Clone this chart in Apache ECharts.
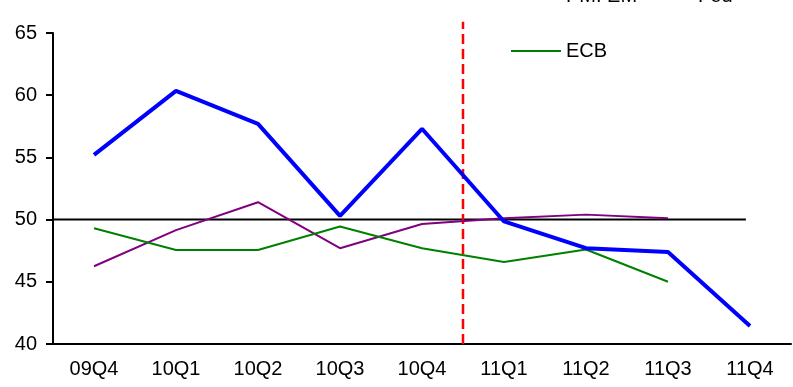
<!DOCTYPE html>
<html>
<head>
<meta charset="utf-8">
<script src="https://cdn.jsdelivr.net/npm/echarts@6/dist/echarts.min.js"></script>
<style>html,body{margin:0;padding:0;background:#fff;}#c{width:793px;height:387px;}</style>
</head>
<body>
<div id="c"></div>
<script>
var categories = ['09Q4','10Q1','10Q2','10Q3','10Q4','11Q1','11Q2','11Q3','11Q4'];
var pmiEM = [55.2, 60.35, 57.7, 50.3, 57.3, 49.85, 47.7, 47.4, 41.45];
var fed = [46.25, 49.15, 51.4, 47.7, 49.65, 50.1, 50.4, 50.1, null];
var ecb = [49.3, 47.55, 47.55, 49.45, 47.7, 46.6, 47.6, 45.0, null];
var yTicks = [40, 45, 50, 55, 60, 65];
var refLevel = 50;
var refLineRange = [0, 8.45];
var forecastBoundary = 5;
var forecastLineRange = [40, 65.9];

var chart = echarts.init(document.getElementById('c'));
var font = 'Liberation Sans, Arial, Helvetica, sans-serif';
var lineIcon = 'path://M0,0 L50,0 L50,2 L0,2 Z';
chart.setOption({
  animation: false,
  textStyle: {fontFamily: font},
  grid: {left: 53, right: 2, top: 33, bottom: 43, containLabel: false},
  legend: [
    {data: [{name: 'PMI EM', icon: lineIcon}, {name: 'Fed', icon: lineIcon}],
     left: 506, top: -19, itemWidth: 50, itemHeight: 2, itemGap: 6,
     textStyle: {fontSize: 20, color: '#000', fontFamily: font}},
    {data: [{name: 'ECB', icon: lineIcon}], left: 506, top: 36, itemWidth: 50, itemHeight: 2,
     textStyle: {fontSize: 20, color: '#000', fontFamily: font}}
  ],
  xAxis: [
    {type: 'category', data: categories, boundaryGap: true,
     axisLine: {lineStyle: {color: '#000', width: 2}},
     axisTick: {length: 7, lineStyle: {color: '#000', width: 2}},
     axisLabel: {color: '#000', fontSize: 20, margin: 15, fontFamily: font},
     splitLine: {show: false}},
    {type: 'value', min: 0, max: 9, show: false}
  ],
  yAxis: {
    type: 'value', min: yTicks[0], max: yTicks[yTicks.length - 1], interval: 5,
    axisLine: {show: true, lineStyle: {color: '#000', width: 2}},
    axisTick: {show: true, inside: false, length: 7, lineStyle: {color: '#000', width: 2}},
    axisLabel: {color: '#000', fontSize: 20, margin: 16, fontFamily: font},
    splitLine: {show: false}
  },
  series: [
    {name: 'ref50', type: 'line', xAxisIndex: 1, symbol: 'none', silent: true,
     data: [[refLineRange[0], refLevel], [refLineRange[1], refLevel]],
     lineStyle: {color: '#000', width: 2}, z: 1},
    {name: 'forecast', type: 'line', xAxisIndex: 1, symbol: 'none', silent: true, clip: false,
     data: [[forecastBoundary, forecastLineRange[0]], [forecastBoundary, forecastLineRange[1]]],
     lineStyle: {color: '#FF0000', width: 2.5, type: [10, 5]}, z: 1},
    {name: 'PMI EM', type: 'line', data: pmiEM, symbol: 'none',
     lineStyle: {color: '#0000FF', width: 4}, itemStyle: {color: '#0000FF'}, z: 5},
    {name: 'Fed', type: 'line', data: fed, symbol: 'none',
     lineStyle: {color: '#800080', width: 2}, itemStyle: {color: '#800080'}, z: 3},
    {name: 'ECB', type: 'line', data: ecb, symbol: 'none',
     lineStyle: {color: '#008000', width: 2}, itemStyle: {color: '#008000'}, z: 4}
  ]
});
</script>
</body>
</html>
